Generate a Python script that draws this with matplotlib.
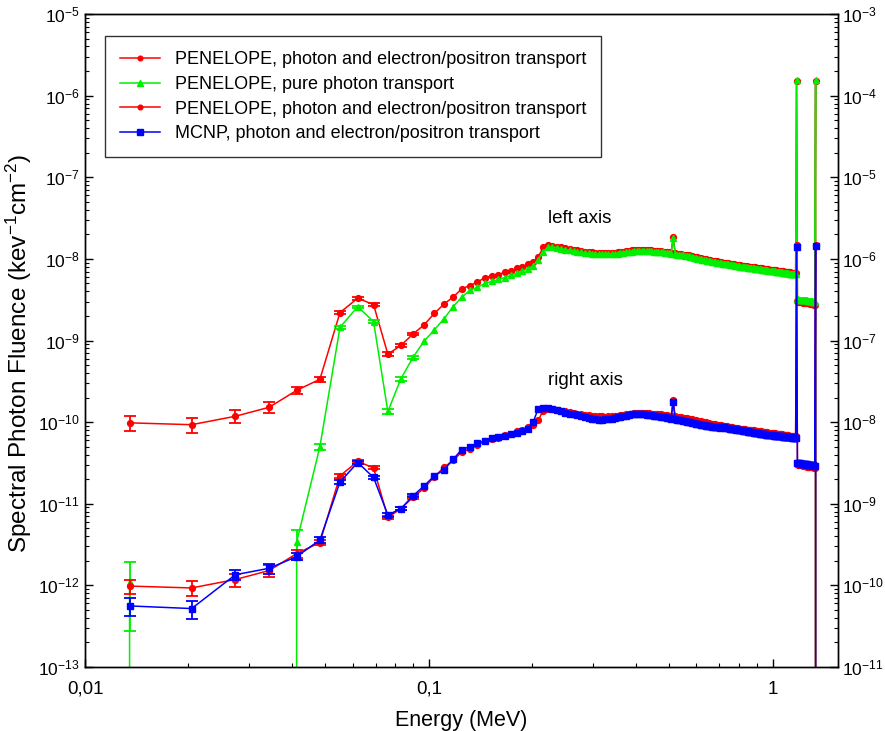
import numpy as np
import matplotlib
matplotlib.use("Agg")
import matplotlib.pyplot as plt
from matplotlib.ticker import FixedLocator, FuncFormatter, LogLocator, NullFormatter

plt.rcParams['font.family'] = ['Liberation Sans', 'DejaVu Sans']
plt.rcParams['mathtext.fontset'] = 'custom'
plt.rcParams['mathtext.rm'] = 'Liberation Sans'
plt.rcParams['mathtext.it'] = 'Liberation Sans:italic'
plt.rcParams['mathtext.bf'] = 'Liberation Sans:bold'

# ---------------- data ----------------
# 200 energy bins of 6.95 keV between 0.01 and 1.4 MeV (bin centres, MeV)
bin_low_MeV = 0.01
bin_width_MeV = 0.00695
n_bins = 200
energy = bin_low_MeV + bin_width_MeV * (np.arange(n_bins) + 0.5)

UNIT = 1e-9  # values below are in 1e-9 keV^-1 cm^-2

# PENELOPE, photon and electron/positron transport
penelope_full = [
    0.098, 0.093, 0.118, 0.152, 0.245, 0.335, 2.2, 3.3, 2.75, 0.68,
    0.87, 1.2, 1.55, 2.15, 2.8, 3.4, 4.3, 4.7, 5.2, 5.9,
    6.2, 6.4, 6.9, 7.1, 7.7, 8.0, 8.7, 9.2, 10.5, 13.8,
    14.6, 14.5, 14.1, 13.8, 13.5, 13.2, 12.9, 12.7, 12.5, 12.3,
    12.1, 12.0, 11.9, 11.8, 11.8, 11.7, 11.8, 11.8, 11.9, 12.0,
    12.1, 12.3, 12.4, 12.6, 12.7, 12.8, 12.9, 12.9, 12.9, 12.9,
    12.8, 12.8, 12.7, 12.6, 12.6, 12.5, 12.4, 12.3, 12.2, 12.1,
    12.0, 11.9, 18.5, 11.8, 11.6, 11.5, 11.4, 11.3, 11.2, 11.1,
    11.0, 10.9, 10.8, 10.6, 10.5, 10.4, 10.3, 10.2, 10.1, 10.0,
    9.9, 9.8, 9.7, 9.6, 9.5, 9.45, 9.4, 9.3, 9.2, 9.15,
    9.1, 9.0, 8.95, 8.9, 8.85, 8.8, 8.7, 8.65, 8.6, 8.55,
    8.5, 8.45, 8.4, 8.35, 8.3, 8.25, 8.2, 8.2, 8.15, 8.1,
    8.05, 8.0, 8.0, 7.95, 7.9, 7.9, 7.85, 7.8, 7.8, 7.75,
    7.7, 7.7, 7.65, 7.6, 7.6, 7.55, 7.5, 7.5, 7.45, 7.4,
    7.4, 7.35, 7.35, 7.3, 7.3, 7.25, 7.2, 7.2, 7.15, 7.15,
    7.1, 7.1, 7.05, 7.0, 7.0, 6.95, 6.95, 6.9, 6.9, 6.85,
    6.85, 6.8, 6.8, 6.75, 6.75, 6.7, 6.7, 1500.0, 3.05, 3.0,
    3.0, 3.0, 2.95, 2.95, 2.95, 2.9, 2.9, 2.9, 2.9, 2.85,
    2.85, 2.85, 2.85, 2.8, 2.8, 2.8, 2.8, 2.8, 2.75, 2.75,
    1500.0, 0, 0, 0, 0, 0, 0, 0, 0, 0,
]

# PENELOPE, pure photon transport
penelope_photon = [
    0.0011, 0, 0, 0, 0.0034, 0.050, 1.45, 2.6, 1.7, 0.135,
    0.34, 0.62, 0.98, 1.35, 1.85, 2.6, 3.4, 4.1, 4.5, 5.0,
    5.3, 5.6, 5.9, 6.3, 6.7, 7.1, 7.6, 8.2, 9.8, 12.3,
    13.8, 14.0, 13.7, 13.3, 13.0, 12.7, 12.4, 12.2, 12.0, 11.8,
    11.7, 11.6, 11.5, 11.5, 11.4, 11.4, 11.4, 11.5, 11.5, 11.6,
    11.8, 11.9, 12.1, 12.2, 12.3, 12.4, 12.5, 12.6, 12.6, 12.6,
    12.5, 12.5, 12.4, 12.3, 12.3, 12.2, 12.1, 12.0, 11.9, 11.8,
    11.7, 11.6, 18.0, 11.5, 11.3, 11.2, 11.1, 11.0, 10.9, 10.8,
    10.7, 10.6, 10.5, 10.3, 10.2, 10.1, 10.0, 9.9, 9.8, 9.7,
    9.6, 9.5, 9.4, 9.3, 9.2, 9.15, 9.1, 9.0, 8.95, 8.9,
    8.85, 8.75, 8.7, 8.65, 8.6, 8.55, 8.45, 8.4, 8.35, 8.3,
    8.25, 8.2, 8.15, 8.1, 8.05, 8.0, 7.95, 7.95, 7.9, 7.85,
    7.8, 7.75, 7.75, 7.7, 7.65, 7.65, 7.6, 7.55, 7.55, 7.5,
    7.45, 7.45, 7.4, 7.35, 7.35, 7.3, 7.25, 7.25, 7.2, 7.15,
    7.15, 7.1, 7.1, 7.05, 7.05, 7.0, 6.95, 6.95, 6.9, 6.9,
    6.85, 6.85, 6.8, 6.75, 6.75, 6.7, 6.7, 6.65, 6.65, 6.6,
    6.6, 6.55, 6.55, 6.5, 6.5, 6.45, 6.45, 1550.0, 3.2, 3.2,
    3.15, 3.15, 3.15, 3.15, 3.1, 3.1, 3.1, 3.1, 3.1, 3.1,
    3.05, 3.05, 3.05, 3.05, 3.05, 3.05, 3.05, 3.0, 3.0, 3.0,
    1550.0, 0, 0, 0, 0, 0, 0, 0, 0, 0,
]

# MCNP, photon and electron/positron transport (right axis)
mcnp_full = [
    0.056, 0.052, 0.135, 0.162, 0.225, 0.36, 1.85, 3.2, 2.1, 0.73,
    0.87, 1.25, 1.65, 2.2, 2.6, 3.5, 4.6, 5.0, 5.5, 5.9,
    6.4, 6.6, 6.8, 7.1, 7.4, 7.8, 8.3, 10.0, 14.5, 15.0,
    14.8, 14.3, 13.9, 13.5, 13.1, 12.7, 12.4, 12.1, 11.8, 11.5,
    11.2, 11.0, 10.8, 10.7, 10.7, 10.8, 10.9, 11.0, 11.2, 11.4,
    11.6, 11.8, 12.0, 12.2, 12.4, 12.5, 12.6, 12.6, 12.5, 12.4,
    12.3, 12.2, 12.1, 12.0, 11.9, 11.8, 11.7, 11.6, 11.5, 11.3,
    11.2, 11.0, 17.7, 10.8, 10.7, 10.6, 10.5, 10.4, 10.2, 10.1,
    10.0, 9.9, 9.8, 9.7, 9.6, 9.5, 9.4, 9.3, 9.2, 9.1,
    9.0, 8.95, 8.9, 8.85, 8.8, 8.75, 8.7, 8.65, 8.6, 8.55,
    8.7, 8.65, 8.6, 8.55, 8.5, 8.4, 8.35, 8.3, 8.25, 8.2,
    8.15, 8.1, 8.05, 8.0, 7.95, 7.9, 7.85, 7.8, 7.75, 7.7,
    7.65, 7.6, 7.6, 7.55, 7.5, 7.45, 7.4, 7.4, 7.35, 7.3,
    7.25, 7.2, 7.2, 7.15, 7.1, 7.1, 7.05, 7.0, 7.0, 6.95,
    6.95, 6.9, 6.9, 6.85, 6.85, 6.8, 6.8, 6.75, 6.75, 6.7,
    6.7, 6.7, 6.65, 6.65, 6.6, 6.6, 6.6, 6.55, 6.55, 6.5,
    6.5, 6.5, 6.45, 6.45, 6.4, 6.4, 6.4, 1400.0, 3.2, 3.2,
    3.15, 3.15, 3.1, 3.1, 3.1, 3.1, 3.05, 3.05, 3.05, 3.05,
    3.0, 3.0, 3.0, 3.0, 3.0, 2.95, 2.95, 2.95, 2.9, 2.9,
    1450.0, 0, 0, 0, 0, 0, 0, 0, 0, 0,
]

# relative statistical uncertainties of the first bins
rel_err_penelope_full = [0.20, 0.20, 0.18, 0.16, 0.11, 0.08, 0.05, 0.04, 0.04, 0.05, 0.04, 0.04]
rel_err_penelope_photon = [0.75, 0.0, 0.0, 0.0, 0.40, 0.09, 0.04, 0.03, 0.04, 0.07, 0.05, 0.04]
rel_err_mcnp = [0.25, 0.25, 0.15, 0.14, 0.10, 0.08, 0.05, 0.04, 0.04, 0.05, 0.04, 0.04]

legend_labels = [
    "PENELOPE, photon and electron/positron transport",
    "PENELOPE, pure photon transport",
    "PENELOPE, photon and electron/positron transport",
    "MCNP, photon and electron/positron transport",
]
x_tick_values = [0.01, 0.1, 1]
x_tick_labels = ["0,01", "0,1", "1"]

# ---------------- plotting ----------------
RED = "#ff0000"
GREEN = "#00ee00"
BLUE = "#0000ff"

pf = np.array(penelope_full) * UNIT
pp = np.array(penelope_photon) * UNIT
mc = np.array(mcnp_full) * UNIT

fig = plt.figure(figsize=(8.85, 7.31), dpi=100)
ax = fig.add_axes([85 / 885, 1 - 667 / 731, (838 - 85) / 885, (667 - 14) / 731])
ax2 = ax.twinx()

for a in (ax, ax2):
    a.set_xscale('log')
    a.set_yscale('log', nonpositive='clip')
ax.set_ylim(1e-13, 1e-5)
ax2.set_ylim(1e-11, 1e-3)
ax.set_xlim(0.01, 1.55)

lw = 1.1
ms = 4.2
n_err = len(rel_err_penelope_full)


def draw(a, y, rel, color, marker, msize, label):
    ln, = a.plot(energy, y, color=color, lw=lw, marker=marker, ms=msize,
                 mec=color, mfc=color, label=label)
    yy = y[:n_err]
    err = yy * np.array(rel)
    ok = yy > 0
    a.errorbar(energy[:n_err][ok], yy[ok], yerr=err[ok], fmt='none', ecolor=color,
               elinewidth=1.3, capsize=4, capthick=1.3)
    return ln


h1 = draw(ax, pf, rel_err_penelope_full, RED, 'o', ms, legend_labels[0])
h2 = draw(ax, pp, rel_err_penelope_photon, GREEN, '^', ms + 0.6, legend_labels[1])
h3 = draw(ax2, pf, rel_err_penelope_full, RED, 'o', ms, legend_labels[2])
h4 = draw(ax2, mc, rel_err_mcnp, BLUE, 's', ms + 0.6, legend_labels[3])

# ticks
ax.xaxis.set_major_locator(FixedLocator(x_tick_values))
ax.xaxis.set_major_formatter(FuncFormatter(lambda v, p: x_tick_labels[x_tick_values.index(v)] if v in x_tick_values else ""))
ax.xaxis.set_minor_locator(LogLocator(base=10, subs=np.arange(2, 10), numticks=20))
ax.xaxis.set_minor_formatter(NullFormatter())


def sci(v, p):
    e = int(round(np.log10(v)))
    return r"$10^{%d}$" % e


for a, lo, hi in ((ax, -13, -5), (ax2, -11, -3)):
    a.yaxis.set_major_locator(FixedLocator([10.0 ** e for e in range(lo, hi + 1)]))
    a.yaxis.set_major_formatter(FuncFormatter(sci))
    a.yaxis.set_minor_locator(LogLocator(base=10, subs=np.arange(2, 10), numticks=20))
    a.yaxis.set_minor_formatter(NullFormatter())

ax.tick_params(axis='x', which='major', direction='in', length=6, width=1, labelsize=13.5,
               top=False, pad=10)
ax.tick_params(axis='y', which='major', direction='in', length=6, width=1, labelsize=12.5,
               right=False, pad=4)
ax.tick_params(axis='both', which='minor', direction='in', length=3, width=0.8,
               top=False, right=False)
ax2.tick_params(axis='y', which='major', direction='in', length=6, width=1, labelsize=12.5, pad=3)
ax2.tick_params(axis='y', which='minor', direction='in', length=3, width=0.8)

for a in (ax, ax2):
    for s in a.spines.values():
        s.set_linewidth(1.0)

ax.set_xlabel("Energy (MeV)", fontsize=15.5, labelpad=9)
ax.set_ylabel(r"Spectral Photon Fluence (kev$^{-1}$cm$^{-2}$)", fontsize=17.5)
ax.yaxis.set_label_coords(-0.068, 0.48)

ax.text(0.222, 3.1e-8, "left axis", fontsize=13.5, ha='left', va='center')
ax.text(0.222, 3.2e-10, "right axis", fontsize=13.5, ha='left', va='center')

leg = ax2.legend(handles=[h1, h2, h3, h4], loc='upper left',
                 bbox_to_anchor=((105 - 85) / 753, 1 - (36 - 14) / 653),
                 fontsize=13, frameon=True, fancybox=False, edgecolor='black',
                 handlelength=2.2, handletextpad=0.8, borderpad=0.85, labelspacing=0.42,
                 markerscale=0.8, borderaxespad=0)
leg.get_frame().set_linewidth(1.0)

fig.savefig("out.png", dpi=100)
